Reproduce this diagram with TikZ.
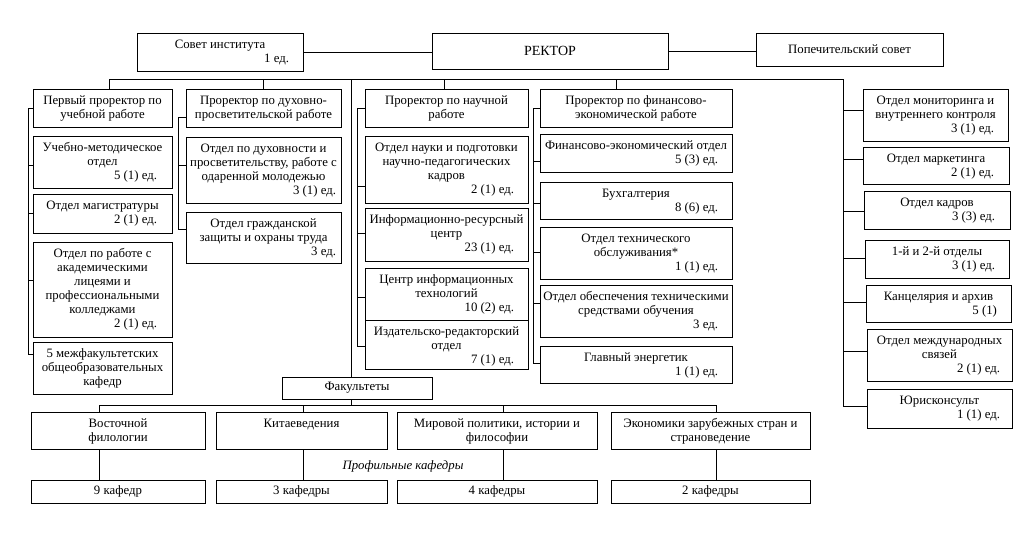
\documentclass[tikz,border=0pt]{standalone}
\usepackage{fontspec}
\setmainfont{Liberation Serif}
\usetikzlibrary{fit}
\newcommand\fz{\fontsize{12.8}{14}\selectfont}
\tikzset{
  ob/.style={draw, line width=1pt, inner sep=0pt},
  tx/.style={anchor=north, align=center, inner sep=0pt, font=\fz},
  cn/.style={anchor=base east, inner sep=0pt, font=\fz},
  ctx/.style={anchor=center, align=center, inner sep=0pt, font=\fz},
  ln/.style={line width=1pt}
}
% box with top-aligned text
\newcommand\obox[6]{%
  \node[ob, fit={(#2,#3)(#4,#5)}] (#1) {};
  \node[tx] (#1t) at ([yshift=-5.7pt]#1.north) {\strut #6};}
% box with centred text
\newcommand\cbox[6]{%
  \node[ob, fit={(#2,#3)(#4,#5)}] (#1) {};
  \node[ctx] (#1t) at (#1.center) {#6};}
% staff count, right side
\newcommand\ocnt[4]{%
  \node[cn] (#1c) at ([xshift=-#3pt,yshift=-#4pt]#1.north east) {#2};}
\begin{document}
\begin{tikzpicture}[x=1pt, y=-1pt, line width=1pt]
\path[use as bounding box] (0,0) rectangle (1034,546);

% top row
\obox{sovet}{137}{33}{303}{71}{Совет института}
\ocnt{sovet}{1 ед.}{14}{29.5}
\node[ob, fit={(432,33)(668,69)}] (rektor) {};
\node[ctx, font=\fontsize{14}{16}\selectfont] (rektort) at (rektor.center) {РЕКТОР};
\cbox{popech}{756}{33}{943}{66}{Попечительский совет}

% column 1
\obox{p1}{33}{89}{172}{127}{Первый проректор по\\учебной работе}
\obox{um}{33}{136}{172}{188}{Учебно-методическое\\отдел}
\ocnt{um}{5 (1) ед.}{15}{43.5}
\obox{mag}{33}{194}{172}{233}{Отдел магистратуры}
\ocnt{mag}{2 (1) ед.}{15}{29.5}
\obox{lic}{33}{242}{172}{337}{Отдел по работе с\\академическими\\лицеями и\\профессиональными\\колледжами}
\ocnt{lic}{2 (1) ед.}{15}{85.5}
\obox{mf}{33}{342}{172}{394}{5 межфакультетских\\общеобразовательных\\кафедр}

% column 2
\obox{p2}{186}{89}{341}{127}{Проректор по духовно-\\просветительской работе}
\obox{dx}{186}{137}{341}{203}{Отдел по духовности и\\просветительству, работе с\\одаренной молодежью}
\ocnt{dx}{3 (1) ед.}{5}{57.5}
\obox{gz}{186}{212}{341}{263}{Отдел гражданской\\защиты и охраны труда}
\ocnt{gz}{3 ед.}{5}{43.5}

% column 3
\obox{p3}{365}{89}{528}{127}{Проректор по научной\\работе}
\obox{nk}{365}{136}{528}{203}{Отдел науки и подготовки\\научно-педагогических\\кадров}
\ocnt{nk}{2 (1) ед.}{14}{57.5}
\obox{ir}{365}{208}{528}{261}{Информационно-ресурсный\\центр}
\ocnt{ir}{23 (1) ед.}{14}{43.5}
\obox{it}{365}{268}{528}{320}{Центр информационных\\технологий}
\ocnt{it}{10 (2) ед.}{14}{43.5}
\obox{ird}{365}{320}{528}{369}{Издательско-редакторский\\отдел}
\ocnt{ird}{7 (1) ед.}{14}{43.5}

% column 4
\obox{p4}{540}{89}{732}{127}{Проректор по финансово-\\экономической работе}
\obox{fe}{540}{134}{732}{172}{Финансово-экономический отдел}
\ocnt{fe}{5 (3) ед.}{14}{29.5}
\obox{bh}{540}{182}{732}{219}{Бухгалтерия}
\ocnt{bh}{8 (6) ед.}{14}{29.5}
\obox{to}{540}{227}{732}{279}{Отдел технического\\обслуживания*}
\ocnt{to}{1 (1) ед.}{14}{43.5}
\obox{ts}{540}{285}{732}{337}{Отдел обеспечения техническими\\средствами обучения}
\ocnt{ts}{3 ед.}{14}{43.5}
\obox{en}{540}{346}{732}{383}{Главный энергетик}
\ocnt{en}{1 (1) ед.}{14}{29.5}

% right column
\obox{mon}{863}{89}{1008}{141}{Отдел мониторинга и\\внутреннего контроля}
\ocnt{mon}{3 (1) ед.}{14}{43.5}
\obox{mk}{863}{147}{1009}{184}{Отдел маркетинга}
\ocnt{mk}{2 (1) ед.}{15}{29.5}
\obox{kd}{864}{191}{1010}{229}{Отдел кадров}
\ocnt{kd}{3 (3) ед.}{15}{29.5}
\obox{oo}{865}{240}{1009}{278}{1-й и 2-й отделы}
\ocnt{oo}{3 (1) ед.}{14}{29.5}
\obox{kn}{866}{285}{1011}{322}{Канцелярия и архив}
\ocnt{kn}{5 (1)}{14}{29.5}
\obox{mn}{867}{329}{1012}{381}{Отдел международных\\связей}
\ocnt{mn}{2 (1) ед.}{12}{43.5}
\obox{ju}{867}{389}{1012}{428}{Юрисконсульт}
\ocnt{ju}{1 (1) ед.}{12}{29.5}

% faculties
\cbox{fak}{282}{377}{432}{399}{Факультеты}
\obox{vf}{31}{412}{205}{449}{Восточной\\филологии}
\obox{kt}{216}{412}{387}{449}{Китаеведения}
\obox{mp}{397}{412}{597}{449}{Мировой политики, истории и\\философии}
\obox{ek}{611}{412}{810}{449}{Экономики зарубежных стран и\\страноведение}
\cbox{k9}{31}{480}{205}{503}{9 кафедр}
\cbox{k3}{216}{480}{387}{503}{3 кафедры}
\cbox{k4}{397}{480}{597}{503}{4 кафедры}
\cbox{k2}{611}{480}{810}{503}{2 кафедры}
\node[font=\fz\itshape, inner sep=0pt] (prof) at (403,466) {Профильные кафедры};

% ---- connectors ----
\coordinate (busR) at (843,79);
\coordinate (bus2) at (716,405);
\coordinate (c1b) at (28,354);
\coordinate (c2b) at (178,229);
\coordinate (c3b) at (357,346);
\coordinate (c4b) at (533,363);

\draw[ln] (sovet.east) -- (sovet.east -| rektor.west);
\draw[ln] (rektor.east) -- (rektor.east -| popech.west);

% main bus and right spine
\draw[ln] ([xshift=6.5pt]p1.north) |- (busR) |- ([yshift=2.5pt]ju.west);
\draw[ln] (p2.north) -- ++(0,-10);
\draw[ln] ([xshift=-2.5pt]p3.north) -- ++(0,-10);
\draw[ln] ([xshift=-20pt]p4.north) -- ++(0,-10);
\draw[ln] ([xshift=-6pt]fak.north) -- ++(0,-298);

% column 1 spine
\draw[ln] (p1.west) -| (c1b) -- ([yshift=14pt]mf.west);
\draw[ln] ([yshift=-3pt]um.west) -- ++(-5,0);
\draw[ln] (mag.west) -- ++(-5,0);
\draw[ln] ([yshift=9.5pt]lic.west) -- ++(-5,0);

% column 2 spine
\draw[ln] ([yshift=-9.5pt]p2.center -| p2.west) -| (c2b) -- ([yshift=8.5pt]gz.west);
\draw[ln] ([yshift=5pt]dx.west) -- ++(-8,0);

% column 3 spine
\draw[ln] (p3.west) -| (c3b) -- ([yshift=-1.5pt]ird.west);
\draw[ln] ([yshift=-16.5pt]nk.west) -- ++(-8,0);
\draw[ln] ([yshift=1.5pt]ir.west) -- ++(-8,0);
\draw[ln] ([yshift=-3pt]it.west) -- ++(-8,0);

% column 4 spine
\draw[ln] (p4.west) -| (c4b) -- ([yshift=1.5pt]en.west);
\draw[ln] ([yshift=-8pt]fe.west) -- ++(-7,0);
\draw[ln] ([yshift=-2.5pt]bh.west) -- ++(-7,0);
\draw[ln] ([yshift=1pt]to.west) -- ++(-7,0);
\draw[ln] ([yshift=8pt]ts.west) -- ++(-7,0);

% right column branches
\draw[ln] ([yshift=5pt]mon.west) -- ++(-20,0);
\draw[ln] ([yshift=6.5pt]mk.west) -- ++(-20,0);
\draw[ln] ([yshift=-1pt]kd.west) -- ++(-21,0);
\draw[ln] ([yshift=1pt]oo.west) -- ++(-22,0);
\draw[ln] ([yshift=1.5pt]kn.west) -- ++(-23,0);
\draw[ln] ([yshift=4pt]mn.west) -- ++(-24,0);

% faculties bus
\draw[ln] ([xshift=-6pt]fak.south) -- ++(0,6);
\draw[ln] ([xshift=-19pt]vf.north) |- (bus2) -- ([xshift=5.5pt]ek.north);
\draw[ln] ([xshift=1.5pt]kt.north) -- ++(0,-7);
\draw[ln] ([xshift=6pt]mp.north) -- ++(0,-7);

% faculty to departments
\draw[ln] ([xshift=-19pt]vf.south) -- ([xshift=-19pt]k9.north);
\draw[ln] ([xshift=1.5pt]kt.south) -- ([xshift=1.5pt]k3.north);
\draw[ln] ([xshift=6pt]mp.south) -- ([xshift=6pt]k4.north);
\draw[ln] ([xshift=5.5pt]ek.south) -- ([xshift=5.5pt]k2.north);
\end{tikzpicture}
\end{document}
